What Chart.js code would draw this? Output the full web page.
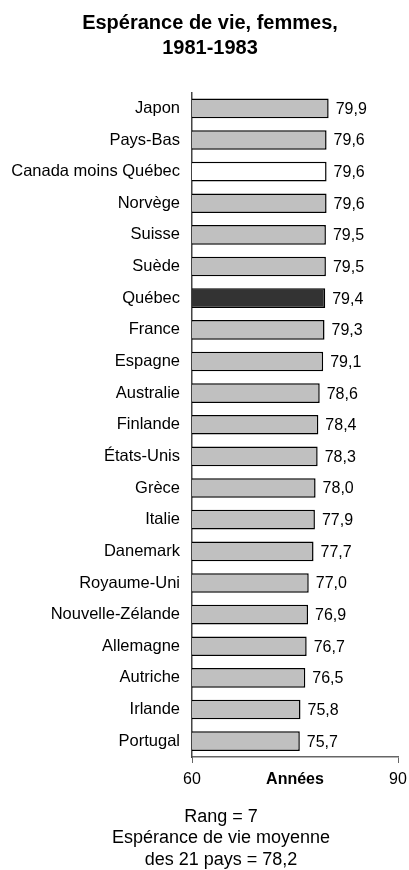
<!DOCTYPE html>
<html>
<head>
<meta charset="utf-8">
<script src="https://cdn.jsdelivr.net/npm/chart.js@4/dist/chart.umd.min.js"></script>
<style>
  html, body { margin: 0; padding: 0; background: #fff; }
  #chart { display: block; }
</style>
</head>
<body>
<canvas id="chart" width="409" height="870"></canvas>
<script>
const pays = ['Japon', 'Pays-Bas', 'Canada moins Québec', 'Norvège', 'Suisse', 'Suède', 'Québec',
    'France', 'Espagne', 'Australie', 'Finlande', 'États-Unis', 'Grèce', 'Italie', 'Danemark',
    'Royaume-Uni', 'Nouvelle-Zélande', 'Allemagne', 'Autriche', 'Irlande', 'Portugal'];
const esperance = [79.9, 79.6, 79.6, 79.6, 79.5, 79.5, 79.4, 79.3, 79.1, 78.6, 78.4, 78.3,
    78.0, 77.9, 77.7, 77.0, 76.9, 76.7, 76.5, 75.8, 75.7];
const titre = ['Espérance de vie, femmes,', '1981-1983'];
const titreAxe = 'Années';
const notes = ['Rang = 7', 'Espérance de vie moyenne', 'des 21 pays = 78,2'];

const police = 'Arial, "Liberation Sans", sans-serif';

// couleur de chaque barre : Québec en foncé, Canada moins Québec en blanc
const couleurs = pays.map(p => {
    if (p === 'Québec') return '#333333';
    if (p === 'Canada moins Québec') return '#ffffff';
    return '#c0c0c0';
});

const etiquettes = {
    id: 'etiquettes',
    afterDatasetsDraw(chart) {
        const ctx = chart.ctx;
        const meta = chart.getDatasetMeta(0);
        ctx.save();
        ctx.font = '16px ' + police;
        ctx.fillStyle = '#000';
        ctx.textAlign = 'left';
        ctx.textBaseline = 'middle';
        meta.data.forEach((bar, i) => {
            ctx.fillText(esperance[i].toFixed(1).replace('.', ','), bar.x + 7, bar.y + 1);
        });
        ctx.restore();
    },
    afterDraw(chart) {
        const ctx = chart.ctx;
        const area = chart.chartArea;
        ctx.save();
        ctx.fillStyle = '#000';
        ctx.textAlign = 'center';
        ctx.textBaseline = 'middle';
        // titre
        ctx.font = 'bold 20px ' + police;
        titre.forEach((ligne, i) => {
            ctx.fillText(ligne, 210, 23 + i * 25);
        });
        // titre de l'axe, sur la même ligne que les graduations
        ctx.font = 'bold 16px ' + police;
        ctx.fillText(titreAxe, (area.left + area.right) / 2, 780);
        // notes sous le graphique
        ctx.font = '18px ' + police;
        notes.forEach((ligne, i) => {
            ctx.fillText(ligne, 221, 817 + i * 21.5);
        });
        ctx.restore();
    }
};

new Chart(document.getElementById('chart'), {
    type: 'bar',
    data: {
        labels: pays,
        datasets: [{
            data: esperance,
            backgroundColor: couleurs,
            borderColor: '#000',
            borderWidth: 1.5,
            borderSkipped: false,
            barPercentage: 0.62,
            categoryPercentage: 1
        }]
    },
    options: {
        indexAxis: 'y',
        responsive: false,
        animation: false,
        layout: { padding: { left: 0, right: 0, top: 92.5, bottom: 0 } },
        plugins: {
            legend: { display: false },
            tooltip: { enabled: false },
            title: { display: false }
        },
        scales: {
            x: {
                min: 60,
                max: 90,
                afterFit(scale) {
                    scale.height = 113;
                    scale.paddingRight = 11;
                },
                ticks: {
                    stepSize: 30,
                    color: '#000',
                    padding: 7,
                    maxRotation: 0,
                    font: { family: police, size: 16 }
                },
                grid: { display: true, drawOnChartArea: false, drawTicks: true, tickLength: 6, color: '#666' },
                border: { display: true, color: '#666', width: 1.5 }
            },
            y: {
                afterFit(scale) { scale.width = 192; },
                ticks: {
                    color: '#000',
                    padding: 12,
                    autoSkip: false,
                    font: { family: police, size: 16.5 }
                },
                grid: { display: false, drawTicks: false },
                border: { display: true, color: '#444', width: 1.5 }
            }
        }
    },
    plugins: [etiquettes]
});
</script>
</body>
</html>
